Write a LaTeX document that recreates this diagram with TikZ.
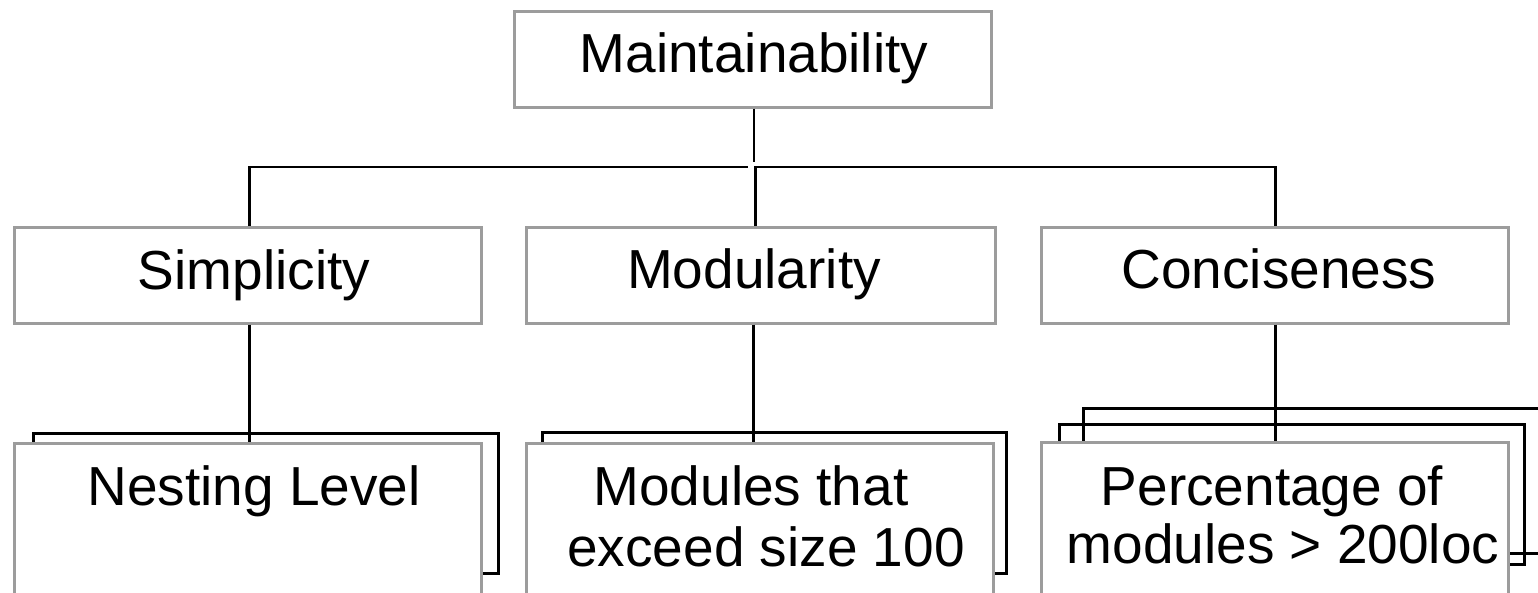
\documentclass[tikz,border=0pt]{standalone}
\usepackage{fontspec}
\setmainfont{Liberation Sans}
\definecolor{boxgray}{HTML}{9C9C9C}
\begin{document}
\begin{tikzpicture}[x=1pt,y=-1pt,
  box/.style={draw=boxgray, line width=2.6pt, fill=white, minimum width=467pt, minimum height=96pt, inner sep=0pt, anchor=north west},
  back/.style={draw=black, line width=2.6pt, inner sep=0pt, anchor=north west},
  conn/.style={draw=black, line width=2.5pt},
  lbl/.style={font=\fontsize{55}{66}\selectfont, inner sep=0pt, anchor=base}]
\fill[white] (0,0) rectangle (1538,592);
\useasboundingbox (0,0) rectangle (1538,592);

% upper boxes
\node[box, minimum width=477pt] (top) at (513,10) {};
\node[box] (simp) at (13,226) {};
\node[box, minimum width=469pt] (mod) at (525,226) {};
\node[box] (conc) at (1040,226) {};

% stacked outlines behind the lower boxes
\node[back, minimum width=465pt, minimum height=140pt] (nlb) at (32,432) {};
\node[back, minimum width=464pt, minimum height=141pt] (mdb) at (541,431) {};
\node[back, minimum width=465pt, minimum height=140pt] (pcb) at (1058,423) {};
\node[back, minimum width=500pt, minimum height=145pt] (pcc) at (1082,407) {};

% lower boxes
\node[box, minimum height=180pt] (nl) at (13,442) {};
\node[box, minimum height=180pt] (md) at (525,442) {};
\node[box, minimum height=180pt] (pc) at (1040,441) {};

% connectors
\coordinate (busL) at (748,167);
\coordinate (topEnd) at (754,162);
\coordinate (cN) at ([xshift=0.5pt]conc.north);
\draw[conn] (top.south -| topEnd) -- (topEnd);
\draw[conn] ([xshift=1.5pt]simp.north) |- (busL);
\draw[conn] ([xshift=-5.5pt]mod.north) |- (cN |- busL) -- (cN);
\draw[conn] ([xshift=1.5pt]simp.south) -- ([xshift=1.5pt]nl.north);
\draw[conn] ([xshift=-7.5pt]mod.south) -- ([xshift=-6.5pt]md.north);
\draw[conn] ([xshift=0.5pt]conc.south) -- ([xshift=0.5pt]pc.north);

% texts
\node[lbl] (tTop) at (754,72) {Maintainability};
\node[lbl] (tSimp) at (254,289) {Simplicity};
\node[lbl] (tMod) at (754,288) {Modularity};
\node[lbl] (tConc) at (1279,288) {Conciseness};
\node[lbl] (tNl) at (254,505) {Nesting Level};
\node[lbl] (tMd1) at (751,505) {Modules that};
\node[lbl] (tMd2) at (766,566) {exceed size 100};
\node[lbl] (tPc1) at (1272,505) {Percentage of};
\node[lbl] (tPc2) at (1283,563) {modules > 200loc};
\end{tikzpicture}
\end{document}
